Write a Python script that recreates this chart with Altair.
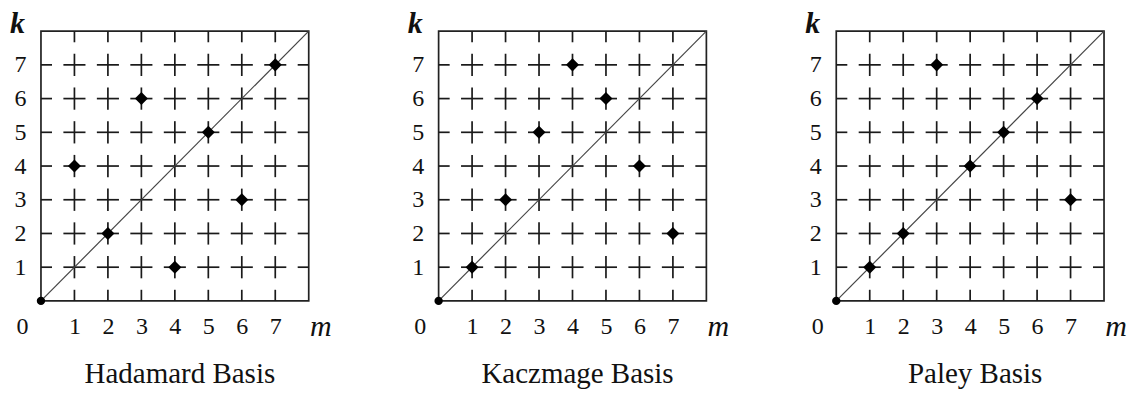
import altair as alt
import pandas as pd

# Ordering of the sequency index k for each natural index m = 0..7
m_values = [0, 1, 2, 3, 4, 5, 6, 7]
hadamard_k = [0, 4, 2, 6, 1, 5, 3, 7]
kaczmage_k = [0, 1, 3, 5, 7, 6, 4, 2]
paley_k = [0, 1, 2, 7, 4, 5, 6, 3]

panel_titles = ["Hadamard Basis", "Kaczmage Basis", "Paley Basis"]
tick_values = [1, 2, 3, 4, 5, 6, 7]

SERIF = "Liberation Serif"
LO, HI = 0, 8
ARM = 0.33  # half-length of each cross arm, in data units
PANEL_W, PANEL_H = 268, 270

xs = alt.Scale(domain=[LO, HI], nice=False, zero=False)
ys = alt.Scale(domain=[LO, HI], nice=False, zero=False)


def cross_segments():
    rows = []
    for c in tick_values:
        for p in range(LO, HI + 1):
            a, b = max(LO, p - ARM), min(HI, p + ARM)
            rows.append({"x": a, "x2": b, "y": c, "y2": c})  # horizontal arm
            rows.append({"x": c, "x2": c, "y": a, "y2": b})  # vertical arm
    return pd.DataFrame(rows)


def text_layer(x, y, t, **style):
    return alt.Chart(pd.DataFrame({"x": [x], "y": [y], "t": [t]})).mark_text(
        font=SERIF, baseline="alphabetic", align="center", color="#111", **style
    ).encode(x=alt.X("x:Q", scale=xs), y=alt.Y("y:Q", scale=ys), text="t:N")


def margin_frame():
    # invisible frame that reserves the white margin around the three panels
    ux = (HI - LO) / PANEL_W
    uy = (HI - LO) / PANEL_H
    frame = pd.DataFrame({
        "x": [LO - 40 * ux], "x2": [HI + 30 * ux],
        "y": [LO - 98 * uy], "y2": [HI + 30 * uy],
    })
    return alt.Chart(frame).mark_rule(strokeOpacity=0, strokeWidth=0.01).encode(
        x=alt.X("x:Q", scale=xs), x2="x2:Q", y=alt.Y("y:Q", scale=ys), y2="y2:Q"
    )


def panel(title, ks):
    pts = pd.DataFrame({"m": m_values, "k": ks})
    base = alt.Chart(pts)

    grid = alt.Chart(cross_segments()).mark_rule(
        color="#1a1a1a", strokeWidth=1.7
    ).encode(
        x=alt.X("x:Q", scale=xs,
                axis=alt.Axis(values=tick_values, grid=False, domain=False,
                              ticks=False, tickSize=0, labelFont=SERIF,
                              labelFontSize=24, labelColor="#111",
                              labelBaseline="alphabetic", labelPadding=33,
                              title=None)),
        x2="x2:Q",
        y=alt.Y("y:Q", scale=ys,
                axis=alt.Axis(values=tick_values, grid=False, domain=False,
                              ticks=False, tickSize=0, labelFont=SERIF,
                              labelFontSize=24, labelColor="#111",
                              labelBaseline="middle", labelPadding=15,
                              title=None)),
        y2="y2:Q",
    )

    diag = alt.Chart(pd.DataFrame({"x": [LO], "y": [LO], "x2": [HI], "y2": [HI]})).mark_rule(
        color="#444", strokeWidth=1.2
    ).encode(x=alt.X("x:Q", scale=xs), y=alt.Y("y:Q", scale=ys), x2="x2:Q", y2="y2:Q")

    diamonds = base.transform_filter("datum.m > 0").mark_point(
        shape="diamond", filled=True, color="black", size=170, opacity=1
    ).encode(x=alt.X("m:Q", scale=xs), y=alt.Y("k:Q", scale=ys))

    origin = base.transform_filter("datum.m == 0").mark_point(
        shape="circle", filled=True, color="black", size=70, opacity=1
    ).encode(x=alt.X("m:Q", scale=xs), y=alt.Y("k:Q", scale=ys))

    k_name = text_layer(-0.7, 7.94, "k", fontSize=30, fontStyle="italic", fontWeight="bold")
    m_name = text_layer(8.36, -1.04, "m", fontSize=30, fontStyle="italic")
    zero = text_layer(-0.55, -0.98, "0", fontSize=24)
    caption = text_layer(4.15, -2.43, title, fontSize=29)

    return alt.layer(margin_frame(), grid, diag, diamonds, origin,
                     k_name, m_name, zero, caption).properties(
        width=PANEL_W, height=PANEL_H
    )


chart = alt.hconcat(
    panel(panel_titles[0], hadamard_k),
    panel(panel_titles[1], kaczmage_k),
    panel(panel_titles[2], paley_k),
    spacing=130,
    bounds="flush",
).properties(
    padding=0,
    background="white",
).configure_view(
    stroke="#222", strokeWidth=1.7
)

chart.save("out.html", embed_options={"renderer": "svg", "actions": False})
